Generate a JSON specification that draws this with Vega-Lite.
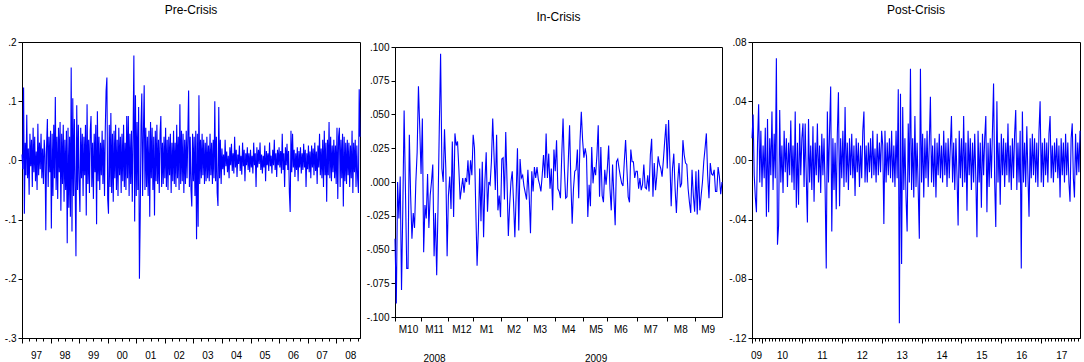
{
"$schema":"https://vega.github.io/schema/vega-lite/v6.json",
"padding":{"left":3,"top":3,"right":2,"bottom":0},
"background":"white",
"config":{
"view":{"stroke":"#000","strokeWidth":1},
"concat":{"spacing":8},
"axis":{"grid":false,"domainColor":"#000","tickColor":"#000","labelColor":"#000","labelFont":"Liberation Sans, Arial","labelFontSize":10,"title":null,"tickSize":4,"labelPadding":2,"labelFlush":false,"labelOverlap":false,"labelBound":false,"minExtent":0},
"axisY":{"minExtent":0,"maxExtent":60},
"axisX":{"minExtent":0},
"title":{"font":"Liberation Sans, Arial","fontSize":12,"fontWeight":"normal","color":"#000","offset":20},
"line":{"color":"#0000ff","strokeWidth":1.1}
},
"datasets":{
"pre":[{"i":0,"v":0.010},{"i":1,"v":-0.015},{"i":2,"v":0.123},{"i":3,"v":-0.090},{"i":4,"v":0.030},{"i":5,"v":-0.025},{"i":6,"v":0.077},{"i":7,"v":-0.030},{"i":8,"v":0.020},{"i":9,"v":-0.058},{"i":10,"v":0.045},{"i":11,"v":-0.010},{"i":12,"v":0.035},{"i":13,"v":-0.045},{"i":14,"v":0.055},{"i":15,"v":-0.020},{"i":16,"v":0.040},{"i":17,"v":-0.035},{"i":18,"v":0.015},{"i":19,"v":-0.050},{"i":20,"v":0.062},{"i":21,"v":-0.025},{"i":22,"v":0.030},{"i":23,"v":-0.015},{"i":24,"v":0.045},{"i":25,"v":-0.030},{"i":26,"v":0.020},{"i":27,"v":-0.040},{"i":28,"v":0.035},{"i":29,"v":0.010},{"i":30,"v":-0.118},{"i":31,"v":0.025},{"i":32,"v":0.070},{"i":33,"v":-0.045},{"i":34,"v":0.040},{"i":35,"v":-0.020},
{"i":36,"v":0.050},{"i":37,"v":-0.115},{"i":38,"v":0.045},{"i":39,"v":-0.060},{"i":40,"v":0.060},{"i":41,"v":-0.030},{"i":42,"v":0.107},{"i":43,"v":-0.050},{"i":44,"v":0.040},{"i":45,"v":-0.065},{"i":46,"v":0.055},{"i":47,"v":-0.020},{"i":48,"v":0.065},{"i":49,"v":-0.085},{"i":50,"v":0.045},{"i":51,"v":-0.040},{"i":52,"v":0.060},{"i":53,"v":-0.070},{"i":54,"v":0.035},{"i":55,"v":-0.050},{"i":56,"v":0.050},{"i":57,"v":-0.140},{"i":58,"v":0.055},{"i":59,"v":-0.080},{"i":60,"v":0.040},{"i":61,"v":-0.095},{"i":62,"v":0.157},{"i":63,"v":-0.120},{"i":64,"v":0.105},{"i":65,"v":-0.060},{"i":66,"v":0.070},{"i":67,"v":-0.045},{"i":68,"v":-0.162},{"i":69,"v":0.093},{"i":70,"v":-0.050},{"i":71,"v":0.060},
{"i":72,"v":-0.035},{"i":73,"v":-0.087},{"i":74,"v":0.055},{"i":75,"v":-0.030},{"i":76,"v":0.045},{"i":77,"v":-0.060},{"i":78,"v":0.040},{"i":79,"v":-0.025},{"i":80,"v":0.060},{"i":81,"v":-0.093},{"i":82,"v":0.095},{"i":83,"v":-0.040},{"i":84,"v":0.035},{"i":85,"v":-0.055},{"i":86,"v":0.050},{"i":87,"v":0.075},{"i":88,"v":-0.045},{"i":89,"v":0.030},{"i":90,"v":-0.065},{"i":91,"v":0.045},{"i":92,"v":-0.020},{"i":93,"v":0.060},{"i":94,"v":-0.108},{"i":95,"v":0.083},{"i":96,"v":-0.035},{"i":97,"v":0.040},{"i":98,"v":-0.050},{"i":99,"v":0.030},{"i":100,"v":-0.025},{"i":101,"v":0.050},{"i":102,"v":-0.040},{"i":103,"v":0.035},{"i":104,"v":-0.060},{"i":105,"v":0.055},{"i":106,"v":0.118},{"i":107,"v":0.140},
{"i":108,"v":-0.065},{"i":109,"v":-0.090},{"i":110,"v":0.060},{"i":111,"v":-0.045},{"i":112,"v":0.080},{"i":113,"v":-0.055},{"i":114,"v":0.045},{"i":115,"v":-0.070},{"i":116,"v":0.050},{"i":117,"v":-0.030},{"i":118,"v":0.060},{"i":119,"v":-0.050},{"i":120,"v":0.035},{"i":121,"v":-0.060},{"i":122,"v":0.055},{"i":123,"v":-0.025},{"i":124,"v":0.040},{"i":125,"v":-0.055},{"i":126,"v":0.045},{"i":127,"v":-0.035},{"i":128,"v":0.060},{"i":129,"v":-0.045},{"i":130,"v":0.030},{"i":131,"v":-0.050},{"i":132,"v":0.075},{"i":133,"v":-0.030},{"i":134,"v":0.075},{"i":135,"v":-0.060},{"i":136,"v":0.045},{"i":137,"v":-0.040},{"i":138,"v":0.050},{"i":139,"v":-0.070},{"i":140,"v":0.040},{"i":141,"v":0.177},{"i":142,"v":-0.103},{"i":143,"v":0.110},
{"i":144,"v":-0.060},{"i":145,"v":0.065},{"i":146,"v":-0.050},{"i":147,"v":0.090},{"i":148,"v":-0.200},{"i":149,"v":-0.095},{"i":150,"v":0.060},{"i":151,"v":0.113},{"i":152,"v":-0.060},{"i":153,"v":0.045},{"i":154,"v":0.127},{"i":155,"v":-0.050},{"i":156,"v":0.055},{"i":157,"v":-0.045},{"i":158,"v":0.040},{"i":159,"v":-0.060},{"i":160,"v":0.050},{"i":161,"v":-0.095},{"i":162,"v":0.065},{"i":163,"v":-0.030},{"i":164,"v":0.055},{"i":165,"v":-0.050},{"i":166,"v":0.040},{"i":167,"v":-0.093},{"i":168,"v":0.050},{"i":169,"v":-0.035},{"i":170,"v":0.060},{"i":171,"v":-0.040},{"i":172,"v":0.035},{"i":173,"v":-0.055},{"i":174,"v":0.045},{"i":175,"v":0.075},{"i":176,"v":-0.045},{"i":177,"v":0.030},{"i":178,"v":-0.040},{"i":179,"v":0.040},
{"i":180,"v":-0.030},{"i":181,"v":0.055},{"i":182,"v":-0.045},{"i":183,"v":0.035},{"i":184,"v":-0.050},{"i":185,"v":0.040},{"i":186,"v":-0.025},{"i":187,"v":0.045},{"i":188,"v":-0.055},{"i":189,"v":0.030},{"i":190,"v":-0.035},{"i":191,"v":0.050},{"i":192,"v":-0.040},{"i":193,"v":0.030},{"i":194,"v":-0.045},{"i":195,"v":0.060},{"i":196,"v":-0.030},{"i":197,"v":0.040},{"i":198,"v":-0.050},{"i":199,"v":0.095},{"i":200,"v":-0.040},{"i":201,"v":0.050},{"i":202,"v":-0.035},{"i":203,"v":0.045},{"i":204,"v":-0.055},{"i":205,"v":0.035},{"i":206,"v":-0.040},{"i":207,"v":0.050},{"i":208,"v":-0.030},{"i":209,"v":0.040},{"i":210,"v":0.118},{"i":211,"v":-0.045},{"i":212,"v":0.040},{"i":213,"v":-0.050},{"i":214,"v":-0.078},{"i":215,"v":0.045},
{"i":216,"v":-0.035},{"i":217,"v":0.040},{"i":218,"v":-0.060},{"i":219,"v":0.050},{"i":220,"v":-0.133},{"i":221,"v":0.045},{"i":222,"v":-0.112},{"i":223,"v":0.110},{"i":224,"v":-0.040},{"i":225,"v":0.035},{"i":226,"v":-0.030},{"i":227,"v":0.045},{"i":228,"v":-0.025},{"i":229,"v":0.035},{"i":230,"v":-0.040},{"i":231,"v":0.030},{"i":232,"v":-0.035},{"i":233,"v":0.040},{"i":234,"v":-0.030},{"i":235,"v":0.025},{"i":236,"v":-0.035},{"i":237,"v":0.045},{"i":238,"v":-0.025},{"i":239,"v":0.030},{"i":240,"v":-0.040},{"i":241,"v":0.035},{"i":242,"v":-0.030},{"i":243,"v":0.100},{"i":244,"v":-0.035},{"i":245,"v":0.040},{"i":246,"v":-0.055},{"i":247,"v":-0.077},{"i":248,"v":0.090},{"i":249,"v":-0.030},{"i":250,"v":0.035},{"i":251,"v":-0.040},
{"i":252,"v":0.020},{"i":253,"v":-0.015},{"i":254,"v":0.010},{"i":255,"v":-0.025},{"i":256,"v":0.035},{"i":257,"v":-0.010},{"i":258,"v":0.015},{"i":259,"v":-0.020},{"i":260,"v":0.008},{"i":261,"v":-0.030},{"i":262,"v":0.022},{"i":263,"v":-0.008},{"i":264,"v":0.028},{"i":265,"v":-0.018},{"i":266,"v":0.012},{"i":267,"v":-0.022},{"i":268,"v":0.040},{"i":269,"v":-0.012},{"i":270,"v":0.018},{"i":271,"v":-0.028},{"i":272,"v":0.010},{"i":273,"v":-0.006},{"i":274,"v":0.025},{"i":275,"v":-0.018},{"i":276,"v":0.008},{"i":277,"v":-0.024},{"i":278,"v":0.030},{"i":279,"v":-0.010},{"i":280,"v":0.018},{"i":281,"v":-0.035},{"i":282,"v":0.012},{"i":283,"v":-0.008},{"i":284,"v":0.022},{"i":285,"v":-0.016},{"i":286,"v":0.012},{"i":287,"v":-0.020},
{"i":288,"v":0.018},{"i":289,"v":-0.012},{"i":290,"v":0.008},{"i":291,"v":-0.022},{"i":292,"v":0.030},{"i":293,"v":-0.008},{"i":294,"v":0.012},{"i":295,"v":-0.045},{"i":296,"v":0.022},{"i":297,"v":-0.012},{"i":298,"v":0.018},{"i":299,"v":-0.006},{"i":300,"v":0.030},{"i":301,"v":-0.016},{"i":302,"v":0.010},{"i":303,"v":-0.022},{"i":304,"v":0.008},{"i":305,"v":-0.012},{"i":306,"v":0.025},{"i":307,"v":-0.035},{"i":308,"v":0.016},{"i":309,"v":-0.008},{"i":310,"v":0.012},{"i":311,"v":-0.018},{"i":312,"v":0.030},{"i":313,"v":-0.010},{"i":314,"v":0.008},{"i":315,"v":-0.022},{"i":316,"v":0.018},{"i":317,"v":-0.008},{"i":318,"v":0.035},{"i":319,"v":-0.016},{"i":320,"v":0.012},{"i":321,"v":-0.028},{"i":322,"v":0.018},{"i":323,"v":-0.008},
{"i":324,"v":0.022},{"i":325,"v":-0.012},{"i":326,"v":0.016},{"i":327,"v":-0.022},{"i":328,"v":0.045},{"i":329,"v":-0.016},{"i":330,"v":0.012},{"i":331,"v":-0.045},{"i":332,"v":0.022},{"i":333,"v":-0.008},{"i":334,"v":0.028},{"i":335,"v":-0.016},{"i":336,"v":0.016},{"i":337,"v":-0.055},{"i":338,"v":-0.087},{"i":339,"v":0.050},{"i":340,"v":-0.020},{"i":341,"v":0.045},{"i":342,"v":-0.012},{"i":343,"v":0.018},{"i":344,"v":-0.028},{"i":345,"v":0.012},{"i":346,"v":-0.016},{"i":347,"v":0.022},{"i":348,"v":-0.035},{"i":349,"v":0.016},{"i":350,"v":-0.012},{"i":351,"v":0.022},{"i":352,"v":-0.022},{"i":353,"v":0.012},{"i":354,"v":-0.016},{"i":355,"v":0.028},{"i":356,"v":-0.012},{"i":357,"v":0.018},{"i":358,"v":-0.045},{"i":359,"v":0.012},
{"i":360,"v":-0.015},{"i":361,"v":0.025},{"i":362,"v":-0.020},{"i":363,"v":0.015},{"i":364,"v":-0.030},{"i":365,"v":0.025},{"i":366,"v":-0.012},{"i":367,"v":0.020},{"i":368,"v":-0.025},{"i":369,"v":0.030},{"i":370,"v":-0.018},{"i":371,"v":0.015},{"i":372,"v":-0.040},{"i":373,"v":0.025},{"i":374,"v":-0.012},{"i":375,"v":0.045},{"i":376,"v":-0.025},{"i":377,"v":0.020},{"i":378,"v":-0.030},{"i":379,"v":0.035},{"i":380,"v":-0.045},{"i":381,"v":0.050},{"i":382,"v":-0.025},{"i":383,"v":0.030},{"i":384,"v":-0.070},{"i":385,"v":0.035},{"i":386,"v":-0.025},{"i":387,"v":0.065},{"i":388,"v":-0.030},{"i":389,"v":0.040},{"i":390,"v":-0.035},{"i":391,"v":0.025},{"i":392,"v":-0.020},{"i":393,"v":0.035},{"i":394,"v":-0.030},{"i":395,"v":0.025},
{"i":396,"v":-0.040},{"i":397,"v":0.055},{"i":398,"v":-0.065},{"i":399,"v":0.040},{"i":400,"v":0.055},{"i":401,"v":-0.045},{"i":402,"v":0.035},{"i":403,"v":-0.030},{"i":404,"v":0.045},{"i":405,"v":-0.078},{"i":406,"v":0.040},{"i":407,"v":-0.035},{"i":408,"v":0.030},{"i":409,"v":-0.040},{"i":410,"v":0.035},{"i":411,"v":-0.025},{"i":412,"v":0.030},{"i":413,"v":-0.045},{"i":414,"v":0.025},{"i":415,"v":-0.030},{"i":416,"v":0.050},{"i":417,"v":-0.055},{"i":418,"v":0.030},{"i":419,"v":-0.020},{"i":420,"v":0.035},{"i":421,"v":-0.045},{"i":422,"v":0.025},{"i":423,"v":-0.030},{"i":424,"v":-0.055},{"i":425,"v":0.120},{"i":426,"v":0.040}],
"inc":[{"i":0,"v":-0.042},{"i":1,"v":-0.090},{"i":2,"v":0.000},{"i":3,"v":-0.027},{"i":4,"v":0.004},{"i":5,"v":-0.080},{"i":6,"v":-0.020},{"i":7,"v":0.053},{"i":8,"v":-0.005},{"i":9,"v":-0.064},{"i":10,"v":-0.064},{"i":11,"v":0.035},{"i":12,"v":-0.010},{"i":13,"v":-0.042},{"i":14,"v":-0.023},{"i":15,"v":-0.034},{"i":16,"v":0.000},{"i":17,"v":0.022},{"i":18,"v":0.071},{"i":19,"v":0.040},{"i":20,"v":0.006},{"i":21,"v":0.047},{"i":22,"v":-0.052},{"i":23,"v":-0.017},{"i":24,"v":-0.027},{"i":25,"v":0.006},{"i":26,"v":-0.034},{"i":27,"v":-0.010},{"i":28,"v":0.000},{"i":29,"v":0.013},{"i":30,"v":-0.055},{"i":31,"v":-0.023},{"i":32,"v":-0.069},{"i":33,"v":-0.020},{"i":34,"v":0.040},{"i":35,"v":0.095},{"i":36,"v":0.010},{"i":37,"v":0.000},{"i":38,"v":0.039},{"i":39,"v":0.010},{"i":40,"v":-0.055},{"i":41,"v":-0.010},{"i":42,"v":0.004},{"i":43,"v":-0.020},{"i":44,"v":0.030},{"i":45,"v":-0.026},{"i":46,"v":0.036},{"i":47,"v":0.027},{"i":48,"v":0.030},{"i":49,"v":0.010},{"i":50,"v":-0.013},{"i":51,"v":-0.005},{"i":52,"v":0.003},{"i":53,"v":-0.008},{"i":54,"v":0.003},{"i":55,"v":0.000},{"i":56,"v":0.016},{"i":57,"v":-0.002},{"i":58,"v":0.016},{"i":59,"v":0.005},{"i":60,"v":0.035},{"i":61,"v":0.025},{"i":62,"v":-0.020},{"i":63,"v":-0.062},{"i":64,"v":-0.035},{"i":65,"v":0.010},{"i":66,"v":-0.029},{"i":67,"v":0.015},{"i":68,"v":-0.041},{"i":69,"v":0.000},{"i":70,"v":0.022},{"i":71,"v":-0.022},{"i":72,"v":0.000},{"i":73,"v":-0.002},{"i":74,"v":0.015},{"i":75,"v":0.047},{"i":76,"v":0.020},{"i":77,"v":-0.006},{"i":78,"v":0.035},{"i":79,"v":-0.021},{"i":80,"v":-0.010},{"i":81,"v":-0.026},{"i":82,"v":0.017},{"i":83,"v":0.018},{"i":84,"v":-0.013},{"i":85,"v":0.037},{"i":86,"v":0.000},{"i":87,"v":-0.040},{"i":88,"v":-0.017},{"i":89,"v":0.000},{"i":90,"v":0.008},{"i":91,"v":-0.015},{"i":92,"v":-0.041},{"i":93,"v":-0.010},{"i":94,"v":0.025},{"i":95,"v":-0.036},{"i":96,"v":0.017},{"i":97,"v":0.003},{"i":98,"v":0.005},{"i":99,"v":-0.003},{"i":100,"v":-0.008},{"i":101,"v":-0.013},{"i":102,"v":0.009},{"i":103,"v":-0.010},{"i":104,"v":-0.038},{"i":105,"v":0.008},{"i":106,"v":-0.007},{"i":107,"v":0.011},{"i":108,"v":0.003},{"i":109,"v":0.011},{"i":110,"v":0.002},{"i":111,"v":-0.002},{"i":112,"v":-0.007},{"i":113,"v":0.005},{"i":114,"v":0.020},{"i":115,"v":0.003},{"i":116,"v":0.036},{"i":117,"v":0.003},{"i":118,"v":0.021},{"i":119,"v":-0.005},{"i":120,"v":0.010},{"i":121,"v":-0.021},{"i":122,"v":0.024},{"i":123,"v":0.008},{"i":124,"v":0.031},{"i":125,"v":-0.005},{"i":126,"v":-0.007},{"i":127,"v":-0.012},{"i":128,"v":0.020},{"i":129,"v":0.047},{"i":130,"v":0.010},{"i":131,"v":-0.012},{"i":132,"v":-0.011},{"i":133,"v":0.015},{"i":134,"v":0.042},{"i":135,"v":0.000},{"i":136,"v":-0.031},{"i":137,"v":-0.005},{"i":138,"v":0.008},{"i":139,"v":0.009},{"i":140,"v":0.024},{"i":141,"v":-0.012},{"i":142,"v":0.030},{"i":143,"v":0.052},{"i":144,"v":0.031},{"i":145,"v":0.018},{"i":146,"v":0.025},{"i":147,"v":0.019},{"i":148,"v":-0.026},{"i":149,"v":-0.002},{"i":150,"v":-0.018},{"i":151,"v":0.026},{"i":152,"v":-0.001},{"i":153,"v":0.011},{"i":154,"v":0.005},{"i":155,"v":0.020},{"i":156,"v":0.042},{"i":157,"v":-0.011},{"i":158,"v":0.026},{"i":159,"v":-0.010},{"i":160,"v":-0.015},{"i":161,"v":0.009},{"i":162,"v":-0.002},{"i":163,"v":0.010},{"i":164,"v":0.027},{"i":165,"v":-0.005},{"i":166,"v":-0.021},{"i":167,"v":0.013},{"i":168,"v":-0.010},{"i":169,"v":-0.032},{"i":170,"v":0.015},{"i":171,"v":0.017},{"i":172,"v":0.010},{"i":173,"v":0.004},{"i":174,"v":-0.001},{"i":175,"v":-0.003},{"i":176,"v":0.015},{"i":177,"v":0.031},{"i":178,"v":0.010},{"i":179,"v":-0.011},{"i":180,"v":-0.015},{"i":181,"v":0.024},{"i":182,"v":0.015},{"i":183,"v":0.015},{"i":184,"v":0.003},{"i":185,"v":0.008},{"i":186,"v":0.008},{"i":187,"v":-0.005},{"i":188,"v":0.003},{"i":189,"v":-0.006},{"i":190,"v":-0.002},{"i":191,"v":0.013},{"i":192,"v":-0.004},{"i":193,"v":-0.005},{"i":194,"v":0.005},{"i":195,"v":-0.007},{"i":196,"v":0.020},{"i":197,"v":0.032},{"i":198,"v":-0.011},{"i":199,"v":0.014},{"i":200,"v":-0.006},{"i":201,"v":0.005},{"i":202,"v":0.019},{"i":203,"v":0.013},{"i":204,"v":0.010},{"i":205,"v":0.004},{"i":206,"v":0.016},{"i":207,"v":0.030},{"i":208,"v":0.043},{"i":209,"v":0.010},{"i":210,"v":0.046},{"i":211,"v":0.015},{"i":212,"v":-0.018},{"i":213,"v":0.010},{"i":214,"v":0.021},{"i":215,"v":-0.005},{"i":216,"v":-0.023},{"i":217,"v":0.000},{"i":218,"v":0.014},{"i":219,"v":-0.004},{"i":220,"v":-0.001},{"i":221,"v":0.031},{"i":222,"v":0.020},{"i":223,"v":0.014},{"i":224,"v":0.013},{"i":225,"v":-0.005},{"i":226,"v":-0.015},{"i":227,"v":-0.023},{"i":228,"v":0.009},{"i":229,"v":-0.010},{"i":230,"v":-0.022},{"i":231,"v":0.008},{"i":232,"v":-0.024},{"i":233,"v":0.009},{"i":234,"v":-0.021},{"i":235,"v":-0.010},{"i":236,"v":0.000},{"i":237,"v":0.015},{"i":238,"v":0.025},{"i":239,"v":0.036},{"i":240,"v":0.005},{"i":241,"v":-0.012},{"i":242,"v":0.014},{"i":243,"v":0.006},{"i":244,"v":0.005},{"i":245,"v":0.009},{"i":246,"v":-0.007},{"i":247,"v":-0.007},{"i":248,"v":0.011},{"i":249,"v":0.004},{"i":250,"v":-0.009},{"i":251,"v":0.000}],
"post":[{"i":0,"v":0.015},{"i":1,"v":0.031},{"i":2,"v":-0.010},{"i":3,"v":-0.025},{"i":4,"v":-0.035},{"i":5,"v":0.012},{"i":6,"v":0.038},{"i":7,"v":-0.015},{"i":8,"v":0.020},{"i":9,"v":-0.018},{"i":10,"v":0.010},{"i":11,"v":-0.012},{"i":12,"v":0.022},{"i":13,"v":-0.038},{"i":14,"v":0.028},{"i":15,"v":-0.035},{"i":16,"v":0.015},{"i":17,"v":-0.010},{"i":18,"v":0.033},{"i":19,"v":-0.020},{"i":20,"v":0.018},{"i":21,"v":-0.012},{"i":22,"v":0.069},{"i":23,"v":-0.057},{"i":24,"v":-0.044},{"i":25,"v":0.034},{"i":26,"v":-0.015},{"i":27,"v":0.010},{"i":28,"v":-0.022},{"i":29,"v":0.020},{"i":30,"v":-0.008},{"i":31,"v":0.015},{"i":32,"v":-0.018},{"i":33,"v":0.012},{"i":34,"v":-0.010},{"i":35,"v":0.027},{"i":36,"v":-0.015},{"i":37,"v":0.010},{"i":38,"v":-0.020},{"i":39,"v":0.033},{"i":40,"v":-0.032},{"i":41,"v":0.012},{"i":42,"v":-0.030},{"i":43,"v":0.025},{"i":44,"v":-0.010},{"i":45,"v":0.015},{"i":46,"v":0.025},{"i":47,"v":-0.018},{"i":48,"v":0.025},{"i":49,"v":-0.012},{"i":50,"v":-0.042},{"i":51,"v":0.028},{"i":52,"v":-0.015},{"i":53,"v":0.010},{"i":54,"v":-0.020},{"i":55,"v":0.023},{"i":56,"v":-0.028},{"i":57,"v":0.012},{"i":58,"v":-0.010},{"i":59,"v":0.025},{"i":60,"v":-0.015},{"i":61,"v":0.010},{"i":62,"v":-0.022},{"i":63,"v":0.018},{"i":64,"v":-0.010},{"i":65,"v":0.015},{"i":66,"v":-0.020},{"i":67,"v":-0.073},{"i":68,"v":0.033},{"i":69,"v":-0.015},{"i":70,"v":0.020},{"i":71,"v":0.050},{"i":72,"v":-0.048},{"i":73,"v":0.015},{"i":74,"v":-0.020},{"i":75,"v":0.012},{"i":76,"v":-0.033},{"i":77,"v":0.018},{"i":78,"v":0.046},{"i":79,"v":-0.031},{"i":80,"v":0.015},{"i":81,"v":-0.012},{"i":82,"v":0.020},{"i":83,"v":-0.018},{"i":84,"v":0.036},{"i":85,"v":-0.015},{"i":86,"v":0.012},{"i":87,"v":-0.020},{"i":88,"v":0.015},{"i":89,"v":-0.010},{"i":90,"v":0.018},{"i":91,"v":-0.012},{"i":92,"v":0.010},{"i":93,"v":-0.024},{"i":94,"v":0.015},{"i":95,"v":-0.008},{"i":96,"v":0.012},{"i":97,"v":-0.018},{"i":98,"v":0.010},{"i":99,"v":-0.012},{"i":100,"v":0.020},{"i":101,"v":0.033},{"i":102,"v":-0.015},{"i":103,"v":0.010},{"i":104,"v":-0.015},{"i":105,"v":0.012},{"i":106,"v":-0.008},{"i":107,"v":0.015},{"i":108,"v":-0.012},{"i":109,"v":0.020},{"i":110,"v":-0.010},{"i":111,"v":0.008},{"i":112,"v":-0.015},{"i":113,"v":0.018},{"i":114,"v":-0.010},{"i":115,"v":0.012},{"i":116,"v":-0.008},{"i":117,"v":0.020},{"i":118,"v":0.010},{"i":119,"v":-0.043},{"i":120,"v":0.020},{"i":121,"v":-0.015},{"i":122,"v":0.012},{"i":123,"v":-0.010},{"i":124,"v":0.015},{"i":125,"v":-0.012},{"i":126,"v":0.020},{"i":127,"v":-0.015},{"i":128,"v":0.010},{"i":129,"v":-0.018},{"i":130,"v":0.020},{"i":131,"v":-0.012},{"i":132,"v":0.048},{"i":133,"v":-0.110},{"i":134,"v":0.045},{"i":135,"v":-0.070},{"i":136,"v":0.036},{"i":137,"v":-0.020},{"i":138,"v":0.015},{"i":139,"v":-0.025},{"i":140,"v":-0.048},{"i":141,"v":0.025},{"i":142,"v":-0.015},{"i":143,"v":0.062},{"i":144,"v":-0.020},{"i":145,"v":0.015},{"i":146,"v":-0.025},{"i":147,"v":0.030},{"i":148,"v":-0.018},{"i":149,"v":0.012},{"i":150,"v":-0.020},{"i":151,"v":-0.053},{"i":152,"v":0.062},{"i":153,"v":-0.015},{"i":154,"v":0.018},{"i":155,"v":-0.025},{"i":156,"v":0.015},{"i":157,"v":-0.012},{"i":158,"v":0.020},{"i":159,"v":-0.018},{"i":160,"v":0.012},{"i":161,"v":0.043},{"i":162,"v":-0.015},{"i":163,"v":0.010},{"i":164,"v":-0.018},{"i":165,"v":0.015},{"i":166,"v":-0.025},{"i":167,"v":0.012},{"i":168,"v":-0.010},{"i":169,"v":0.018},{"i":170,"v":-0.012},{"i":171,"v":0.010},{"i":172,"v":-0.015},{"i":173,"v":0.020},{"i":174,"v":-0.010},{"i":175,"v":0.012},{"i":176,"v":-0.018},{"i":177,"v":0.015},{"i":178,"v":-0.012},{"i":179,"v":0.010},{"i":180,"v":0.030},{"i":181,"v":-0.015},{"i":182,"v":0.012},{"i":183,"v":-0.020},{"i":184,"v":0.015},{"i":185,"v":-0.010},{"i":186,"v":-0.044},{"i":187,"v":0.020},{"i":188,"v":-0.012},{"i":189,"v":0.015},{"i":190,"v":-0.018},{"i":191,"v":0.030},{"i":192,"v":-0.015},{"i":193,"v":0.012},{"i":194,"v":-0.034},{"i":195,"v":0.020},{"i":196,"v":-0.010},{"i":197,"v":0.015},{"i":198,"v":-0.020},{"i":199,"v":0.012},{"i":200,"v":-0.015},{"i":201,"v":0.018},{"i":202,"v":-0.012},{"i":203,"v":-0.052},{"i":204,"v":0.020},{"i":205,"v":-0.015},{"i":206,"v":0.012},{"i":207,"v":-0.032},{"i":208,"v":0.018},{"i":209,"v":-0.010},{"i":210,"v":0.015},{"i":211,"v":0.030},{"i":212,"v":-0.035},{"i":213,"v":0.012},{"i":214,"v":-0.018},{"i":215,"v":0.015},{"i":216,"v":-0.012},{"i":217,"v":0.020},{"i":218,"v":0.052},{"i":219,"v":-0.015},{"i":220,"v":-0.045},{"i":221,"v":0.040},{"i":222,"v":-0.015},{"i":223,"v":0.012},{"i":224,"v":-0.030},{"i":225,"v":0.018},{"i":226,"v":-0.010},{"i":227,"v":0.015},{"i":228,"v":-0.018},{"i":229,"v":0.012},{"i":230,"v":-0.010},{"i":231,"v":0.025},{"i":232,"v":-0.015},{"i":233,"v":0.010},{"i":234,"v":-0.020},{"i":235,"v":0.015},{"i":236,"v":-0.012},{"i":237,"v":0.018},{"i":238,"v":0.034},{"i":239,"v":-0.020},{"i":240,"v":0.012},{"i":241,"v":-0.015},{"i":242,"v":0.020},{"i":243,"v":-0.073},{"i":244,"v":0.033},{"i":245,"v":-0.015},{"i":246,"v":0.012},{"i":247,"v":-0.018},{"i":248,"v":0.023},{"i":249,"v":-0.010},{"i":250,"v":-0.038},{"i":251,"v":0.015},{"i":252,"v":-0.012},{"i":253,"v":0.018},{"i":254,"v":-0.010},{"i":255,"v":0.015},{"i":256,"v":-0.015},{"i":257,"v":0.012},{"i":258,"v":-0.018},{"i":259,"v":0.020},{"i":260,"v":0.040},{"i":261,"v":-0.015},{"i":262,"v":0.012},{"i":263,"v":-0.018},{"i":264,"v":0.015},{"i":265,"v":-0.010},{"i":266,"v":0.012},{"i":267,"v":-0.015},{"i":268,"v":0.018},{"i":269,"v":0.030},{"i":270,"v":-0.012},{"i":271,"v":0.010},{"i":272,"v":-0.015},{"i":273,"v":0.012},{"i":274,"v":-0.008},{"i":275,"v":0.015},{"i":276,"v":-0.012},{"i":277,"v":0.010},{"i":278,"v":-0.025},{"i":279,"v":0.015},{"i":280,"v":-0.010},{"i":281,"v":0.012},{"i":282,"v":-0.015},{"i":283,"v":0.018},{"i":284,"v":-0.010},{"i":285,"v":0.012},{"i":286,"v":-0.015},{"i":287,"v":-0.028},{"i":288,"v":0.015},{"i":289,"v":0.025},{"i":290,"v":-0.012},{"i":291,"v":-0.025},{"i":292,"v":0.018},{"i":293,"v":-0.010},{"i":294,"v":0.012},{"i":295,"v":-0.008},{"i":296,"v":0.020}]
},
"align":"none",
"spacing":-8,
"hconcat":[
{"title":"Pre-Crisis","width":338,"height":296,"data":{"name":"pre"},"mark":{"type":"line"},
"encoding":{
"x":{"field":"i","type":"quantitative","scale":{"domain":[0,426],"nice":false,"zero":false},
"axis":{"values":[0,9,18,27,36,45,54,63,72,81,90,99,108,117,126,135,144,153,162,171,180,189,198,207,216,225,234,243,252,261,270,279,288,297,306,315,324,333,342,351,360,369,378,387,396,405,414,423],"labelExpr":"datum.value % 36 === 0 ? pad(toString((97 + round(datum.value/36)) % 100), 2, '0', 'left') : ''","labelOffset":14,"labelPadding":7,"tickSize":{"condition":{"test":"datum.value % 36 === 0","value":5},"value":3}}},
"y":{"field":"v","type":"quantitative","scale":{"domain":[-0.3,0.2],"nice":false,"zero":false},
"axis":{"values":[-0.3,-0.2,-0.1,0,0.1,0.2],"labelExpr":"replace(replace(format(datum.value,'.1f'),'0.','.'),'−','-')"}}}},
{"bounds":"flush","spacing":4,"vconcat":[
{"width":327,"height":1,"data":{"values":[{"a":0}]},"mark":{"type":"point","opacity":0,"size":1},"encoding":{},"view":{"stroke":null}},
{"title":{"text":"In-Crisis","offset":18},"width":327,"height":270,"data":{"name":"inc"},"mark":{"type":"line"},
"encoding":{
"x":{"field":"i","type":"quantitative","scale":{"domain":[0,251],"nice":false,"zero":false},
"axis":{"values":[0,20,41,60,81,101,123,144,163,186,209,230],"labelExpr":"[['M10'],['M11','2008'],['M12'],['M1'],['M2'],['M3'],['M4'],['M5','2009'],['M6'],['M7'],['M8'],['M9']][indexof([0,20,41,60,81,101,123,144,163,186,209,230], datum.value)]","labelOffset":13,"labelLineHeight":29,"labelPadding":3}},
"y":{"field":"v","type":"quantitative","scale":{"domain":[-0.1,0.1],"nice":false,"zero":false},
"axis":{"values":[-0.1,-0.075,-0.05,-0.025,0,0.025,0.05,0.075,0.1],"labelExpr":"replace(replace(format(datum.value,'.3f'),'0.','.'),'−','-')"}}}}
]},
{"title":"Post-Crisis","width":328,"height":296,"data":{"name":"post"},"mark":{"type":"line"},
"encoding":{
"x":{"field":"i","type":"quantitative","scale":{"domain":[0,296],"nice":false,"zero":false},
"axis":{"values":[0,3,6,9,12,15,18,21,24,27,30,33,36,39,42,45,48,51,54,57,60,63,66,69,72,75,78,81,84,87,90,93,96,99,102,105,108,111,114,117,120,123,126,129,132,135,138,141,144,147,150,153,156,159,162,165,168,171,174,177,180,183,186,189,192,195,198,201,204,207,210,213,216,219,222,225,228,231,234,237,240,243,246,249,252,255,258,261,264,267,270,273,276,279,282,285,288,291,294],"labelExpr":"datum.value === 0 ? '09' : ((datum.value - 9) % 36 === 0 ? toString(10 + (datum.value - 9)/36) : '')","labelOffset":{"condition":{"test":"datum.value === 0","value":4},"value":20},"labelPadding":7,"tickSize":{"condition":{"test":"datum.value === 0 || (datum.value - 9) % 36 === 0","value":5},"value":3}}},
"y":{"field":"v","type":"quantitative","scale":{"domain":[-0.12,0.08],"nice":false,"zero":false},
"axis":{"values":[-0.12,-0.08,-0.04,0,0.04,0.08],"minExtent":34,"labelExpr":"replace(replace(format(datum.value,'.2f'),'0.','.'),'−','-')"}}}}
]
}
